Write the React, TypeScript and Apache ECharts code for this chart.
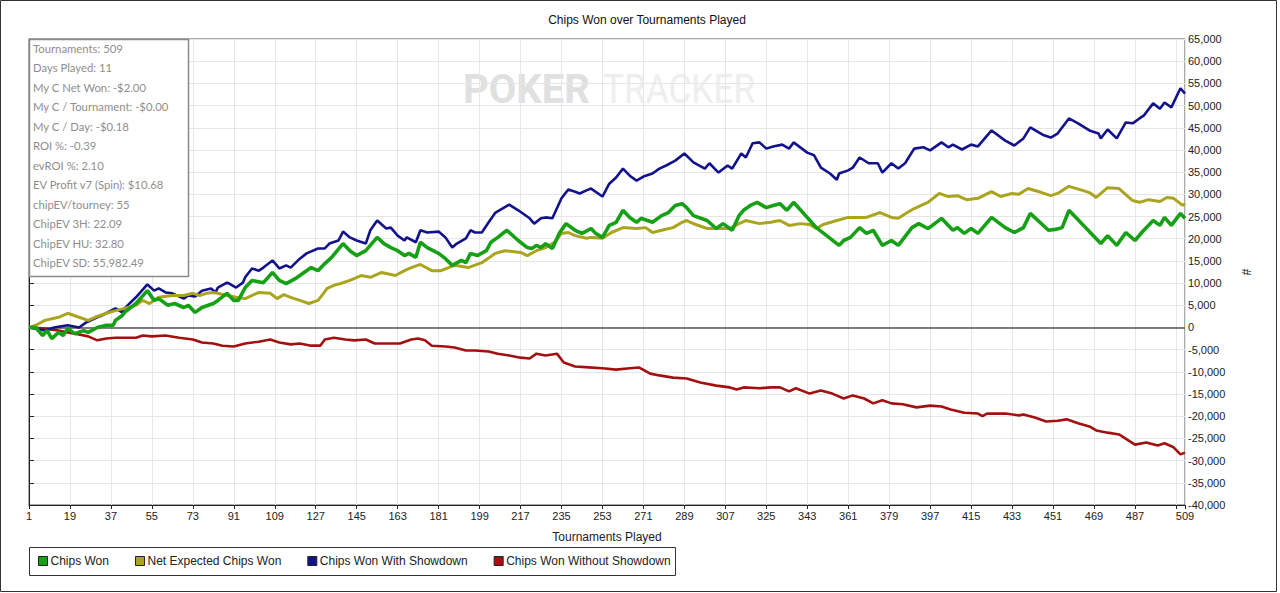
import React, { useEffect, useRef } from "react";
import * as echarts from "echarts";

const TITLE = "Chips Won over Tournaments Played";
const X_NAME = "Tournaments Played";
const Y_NAME = "#";
const SERIES_NAMES = [
  "Chips Won",
  "Net Expected Chips Won",
  "Chips Won With Showdown",
  "Chips Won Without Showdown",
];
const SERIES_COLORS = ["#16a016", "#aaa41e", "#12128c", "#a31010"];
const STATS = [
  "Tournaments: 509",
  "Days Played: 11",
  "My C Net Won: -$2.00",
  "My C / Tournament: -$0.00",
  "My C / Day: -$0.18",
  "ROI %: -0.39",
  "evROI %: 2.10",
  "EV Profit v7 (Spin): $10.68",
  "chipEV/tourney: 55",
  "ChipEV 3H: 22.09",
  "ChipEV HU: 32.80",
  "ChipEV SD: 55,982.49",
];
const X_MIN_T = 1;
const X_MAX_T = 509;
const X_STEP = 18;
const Y_MIN = -40000;
const Y_MAX = 65000;
const Y_STEP = 5000;

// [tournament, chips]
const chipsWon = [
  [1, 0], [4, 0], [7, -1800], [9, -700], [11, -2500], [14, -1100], [16, -1800], [18, -200],
  [21, -1400], [25, -700], [27, -1100], [31, 0], [35, 500], [38, 500], [39, 1600], [42, 2700],
  [43, 3400], [48, 5400], [53, 8300], [56, 6100], [58, 6500], [62, 5000], [65, 5400], [69, 4500],
  [71, 5000], [74, 3400], [77, 4500], [82, 5400], [84, 6100], [88, 7700], [91, 6100], [93, 6100],
  [96, 9000], [99, 10600], [104, 10100], [108, 12400], [111, 10600], [114, 9900], [118, 11000],
  [120, 11700], [125, 13500], [128, 12800], [131, 14400], [134, 15800], [139, 18900], [142, 17300],
  [145, 16200], [149, 17300], [154, 20300], [157, 18900], [160, 18000], [163, 17300], [166, 16200],
  [168, 16700], [171, 15800], [173, 19200], [176, 18000], [181, 16700], [184, 15500], [187, 14000],
  [191, 15100], [193, 14600], [195, 16700], [198, 16200], [202, 17300], [204, 19200], [207, 20300],
  [211, 21900], [216, 19600], [220, 18000], [222, 17800], [224, 18500], [226, 18000], [228, 18900],
  [231, 17800], [234, 21200], [237, 23400], [241, 21900], [244, 21200], [248, 22300], [250, 21200],
  [253, 20300], [256, 23000], [259, 23700], [262, 26400], [265, 24800], [268, 23700], [270, 24600],
  [275, 23700], [279, 25200], [282, 25900], [285, 27500], [288, 27900], [290, 27000], [293, 25200],
  [299, 24100], [303, 22300], [306, 23400], [310, 21900], [313, 25200], [315, 26400], [318, 27500],
  [321, 28200], [325, 27000], [328, 27500], [331, 27900], [334, 26400], [337, 28200], [347, 22500],
  [357, 18500], [359, 19600], [362, 20300], [366, 22500], [369, 21200], [372, 21900], [376, 18500],
  [380, 19600], [383, 18500], [389, 22500], [392, 23400], [396, 22300], [398, 23000], [402, 24600],
  [407, 21900], [409, 22500], [412, 21200], [415, 22300], [418, 21200], [424, 24800], [430, 22500],
  [434, 21400], [438, 22500], [441, 25700], [449, 21900], [452, 22100], [455, 22500], [458, 26400],
  [472, 18900], [475, 20700], [479, 18500], [483, 21400], [487, 19600], [490, 21400], [495, 24100],
  [498, 23000], [500, 24800], [503, 23000], [507, 25700], [509, 24600],
];

const netExpected = [
  [1, 0], [4, 500], [8, 1600], [14, 2300], [18, 3200], [23, 2300], [27, 1600], [30, 2300],
  [35, 3200], [39, 3800], [43, 4300], [48, 5000], [51, 6100], [54, 5400], [58, 6800], [64, 7200],
  [69, 7200], [73, 7700], [76, 7200], [79, 7700], [82, 7900], [84, 7700], [88, 7200], [92, 6800],
  [96, 6500], [102, 7900], [107, 7700], [110, 6500], [113, 7400], [116, 6800], [120, 6100],
  [124, 5400], [128, 6100], [130, 7400], [132, 8800], [135, 9500], [138, 9900], [142, 10600],
  [147, 11700], [151, 11300], [156, 12400], [162, 11700], [166, 12800], [169, 13500], [173, 14200],
  [178, 12800], [182, 12800], [188, 14000], [194, 13500], [200, 14600], [206, 16700], [210, 17300],
  [217, 16900], [220, 16200], [224, 17300], [228, 18000], [232, 19200], [235, 21200], [238, 21400],
  [241, 20700], [246, 20100], [248, 20300], [253, 20100], [257, 21400], [262, 22500], [268, 22300],
  [272, 22500], [275, 21400], [279, 21900], [284, 22500], [288, 23700], [290, 24100], [294, 23200],
  [299, 22300], [304, 22300], [309, 22300], [313, 23400], [316, 24100], [322, 23400], [327, 23700],
  [331, 24100], [335, 23000], [340, 23400], [344, 23200], [347, 22300], [350, 23200], [356, 24100],
  [361, 24800], [365, 24800], [369, 24800], [375, 25900], [380, 24800], [383, 24600], [387, 25900],
  [390, 26800], [396, 28200], [401, 30200], [405, 29500], [409, 29700], [413, 28800], [418, 29100],
  [424, 30600], [428, 29500], [433, 30200], [436, 30000], [440, 31300], [446, 30400], [450, 29700],
  [453, 30200], [458, 31800], [464, 30900], [467, 30400], [470, 29300], [475, 31500], [480, 31300],
  [486, 28600], [489, 28200], [493, 28800], [498, 28400], [501, 29300], [504, 29100], [508, 27500],
  [509, 27900],
];

const withShowdown = [
  [1, 0], [8, -700], [12, 0], [18, 500], [23, 0], [26, 1100], [31, 2300], [33, 2700], [39, 4300],
  [42, 3400], [43, 4300], [48, 6800], [53, 9700], [56, 8300], [58, 8800], [61, 7900], [64, 7700],
  [69, 6500], [71, 7200], [74, 7000], [77, 8300], [81, 8800], [83, 7900], [84, 9000], [88, 10100],
  [89, 9900], [92, 9000], [95, 10100], [96, 11300], [99, 13300], [102, 12800], [104, 13500],
  [108, 15100], [111, 13300], [114, 14000], [116, 13500], [120, 15500], [123, 16700], [128, 17800],
  [131, 17800], [133, 18900], [137, 19600], [139, 21600], [142, 20300], [145, 19600], [149, 18900],
  [151, 21900], [154, 24100], [158, 22300], [160, 22500], [163, 20700], [166, 19600], [167, 20300],
  [171, 19200], [173, 21900], [176, 21400], [181, 21600], [184, 20300], [187, 18000], [189, 18900],
  [193, 20100], [195, 21900], [197, 21400], [200, 21400], [203, 23700], [206, 25900], [209, 26800],
  [212, 27700], [216, 26400], [221, 24600], [223, 23400], [226, 24600], [228, 24800], [231, 24600],
  [235, 29100], [238, 31100], [241, 30600], [243, 30200], [246, 30900], [248, 31300], [253, 29500],
  [256, 32400], [259, 33800], [262, 35800], [265, 34200], [268, 33100], [271, 34000], [275, 34700],
  [278, 35800], [281, 36500], [285, 37600], [289, 39200], [293, 37200], [298, 35800], [300, 37000],
  [304, 34900], [308, 36500], [310, 35800], [314, 39200], [316, 38300], [319, 41500], [322, 41700],
  [325, 40300], [328, 40800], [332, 41200], [335, 40300], [337, 41700], [343, 39400], [346, 38800],
  [349, 36000], [353, 34700], [356, 33300], [357, 34700], [361, 35400], [363, 36000], [366, 38300],
  [370, 37000], [374, 37000], [376, 34900], [380, 37000], [383, 35800], [386, 37000], [390, 40300],
  [394, 40600], [397, 39900], [402, 41700], [405, 40600], [407, 41200], [411, 40100], [415, 41200],
  [418, 40800], [421, 42600], [424, 44400], [430, 42100], [434, 41000], [438, 42600], [441, 45100],
  [447, 43300], [450, 42800], [453, 43700], [458, 47100], [462, 46000], [467, 44400], [471, 43700],
  [472, 42600], [475, 44600], [479, 42600], [483, 46200], [486, 46000], [489, 47100], [491, 47800],
  [495, 50500], [498, 49300], [500, 50700], [503, 49600], [507, 53900], [509, 52700],
];

const withoutShowdown = [
  [1, 0], [7, -200], [14, -700], [18, -1100], [23, -1600], [27, -2000], [31, -2900], [35, -2500],
  [39, -2300], [43, -2300], [48, -2300], [51, -1800], [55, -2000], [61, -1800], [67, -2300],
  [73, -2700], [77, -3400], [82, -3600], [86, -4100], [91, -4300], [96, -3600], [102, -3200],
  [107, -2700], [111, -3400], [116, -3800], [120, -3600], [125, -4100], [129, -4100], [131, -2700],
  [135, -2300], [140, -2700], [144, -2900], [149, -2700], [153, -3600], [159, -3600], [164, -3600],
  [169, -2700], [172, -2500], [175, -2900], [178, -4100], [184, -4300], [188, -4500], [193, -5200],
  [197, -5200], [203, -5400], [207, -5900], [212, -6300], [217, -6800], [221, -7000], [224, -5900],
  [228, -6300], [233, -5900], [236, -7900], [241, -8800], [247, -9000], [253, -9200], [259, -9500],
  [265, -9200], [269, -9000], [274, -10400], [278, -10800], [284, -11300], [290, -11500],
  [296, -12400], [303, -13100], [309, -13500], [312, -14000], [315, -13500], [322, -13700],
  [327, -13500], [331, -13500], [335, -14400], [338, -13700], [344, -14900], [349, -14200],
  [354, -14900], [359, -16000], [363, -15300], [368, -16000], [372, -17100], [376, -16400],
  [380, -17100], [385, -17300], [391, -18000], [397, -17600], [402, -17800], [406, -18500],
  [412, -19200], [418, -19400], [420, -20000], [422, -19400], [430, -19400], [436, -19800],
  [438, -19600], [443, -20300], [448, -21200], [453, -21000], [457, -20700], [462, -21600],
  [467, -22300], [470, -23200], [475, -23700], [480, -24100], [487, -26400], [492, -25900],
  [497, -26600], [500, -26100], [504, -27000], [507, -28600], [509, -28200],
];

const SERIES_DATA = [chipsWon, netExpected, withShowdown, withoutShowdown];
const LINE_WIDTHS = [3.6, 3, 2.6, 2.6];
const Z_ORDER = [5, 4, 3, 2];

const AXIS_FONT = "'Liberation Sans', Arial, sans-serif";
const STATS_FONT = "Lato, 'Open Sans', sans-serif";

function fmt(v: number) {
  return v.toLocaleString("en-US");
}

export default function App() {
  const ref = useRef<HTMLDivElement>(null);

  useEffect(() => {
    if (!ref.current) return;
    const chart = echarts.init(ref.current, null, { renderer: "svg" });

    const series: any[] = SERIES_NAMES.map((name, i) => ({
      name,
      type: "line",
      data: SERIES_DATA[i].map(([t, v]) => [t - X_MIN_T, v]),
      showSymbol: false,
      symbol: "none",
      z: Z_ORDER[i],
      lineStyle: { color: SERIES_COLORS[i], width: LINE_WIDTHS[i] },
      itemStyle: { color: SERIES_COLORS[i], borderColor: "#222", borderWidth: 1 },
      emphasis: { disabled: true },
    }));
    series[3].markLine = {
      silent: true,
      symbol: ["none", "none"],
      label: { show: false },
      lineStyle: { color: "#555", width: 1.5, type: "solid" },
      data: [{ yAxis: 0 }],
      z: 1,
    };

    const statsLines = STATS.map((s, i) => ({
      type: "text",
      left: 33,
      top: 42.5 + i * 19.5,
      z: 20,
      style: {
        text: s,
        fill: "#8e8e8e",
        font: `11.3px ${STATS_FONT}`,
      },
    }));

    chart.setOption({
      animation: false,
      backgroundColor: "#fff",
      grid: {
        left: 29,
        right: 95,
        top: 39,
        bottom: 88,
        show: true,
        borderColor: "#555",
        borderWidth: 1,
        backgroundColor: "transparent",
      },
      legend: {
        data: SERIES_NAMES,
        left: 38,
        top: 555,
        padding: 0,
        icon: "rect",
        itemWidth: 9,
        itemHeight: 9,
        itemGap: 26,
        selectedMode: false,
        textStyle: { fontFamily: AXIS_FONT, fontSize: 12, color: "#222", padding: [0, 0, 0, -2] },
        itemStyle: { borderColor: "#222", borderWidth: 1 },
      },
      xAxis: {
        type: "value",
        min: 0,
        max: X_MAX_T - X_MIN_T,
        interval: X_STEP,
        name: X_NAME,
        nameLocation: "middle",
        nameGap: 26,
        nameTextStyle: { fontFamily: AXIS_FONT, fontSize: 12, color: "#222" },
        axisLine: { show: true, onZero: false, lineStyle: { color: "#222", width: 1 } },
        axisTick: { show: true, length: 4, lineStyle: { color: "#222" } },
        axisLabel: {
          fontFamily: AXIS_FONT,
          fontSize: 11,
          color: "#222",
          margin: 5,
          formatter: (v: number) => (v === 504 ? "" : String(v + X_MIN_T)),
        },
        splitLine: { show: true, lineStyle: { color: "#e6e6e6", width: 1 } },
      },
      yAxis: {
        type: "value",
        position: "right",
        min: Y_MIN,
        max: Y_MAX,
        interval: Y_STEP,
        name: Y_NAME,
        nameLocation: "middle",
        nameGap: 55,
        nameRotate: -90,
        nameTextStyle: { fontFamily: AXIS_FONT, fontSize: 12, color: "#222" },
        axisLine: { show: true, lineStyle: { color: "#222", width: 1 } },
        axisTick: { show: true, length: 5, lineStyle: { color: "#222" } },
        axisLabel: {
          fontFamily: AXIS_FONT,
          fontSize: 11,
          color: "#222",
          margin: 3,
          formatter: (v: number) => fmt(v),
        },
        splitLine: { show: true, lineStyle: { color: "#e6e6e6", width: 1 } },
      },
      series,
      graphic: [
        {
          type: "rect",
          shape: { x: 0.5, y: 0.5, width: 1276, height: 591 },
          style: { fill: "none", stroke: "#333", lineWidth: 1 },
          silent: true,
          z: 30,
        },
        {
          type: "text",
          x: 647,
          y: 14,
          style: {
            text: TITLE,
            fill: "#111",
            font: `12px ${AXIS_FONT}`,
            textAlign: "center",
          },
        },
        {
          type: "text",
          x: 463,
          y: 69,
          scaleX: 1.0,
          z: -1,
          style: {
            text: "POKER",
            fill: "#e0e0e0",
            font: `bold 40px Roboto, sans-serif`,
          },
        },
        {
          type: "text",
          x: 603,
          y: 69,
          scaleX: 0.88,
          z: -1,
          style: {
            text: "TRACKER",
            fill: "#eeeeee",
            font: `40px Roboto, sans-serif`,
          },
        },
        {
          type: "rect",
          shape: { x: 29.5, y: 39.5, width: 159, height: 237 },
          style: { fill: "#fff", stroke: "#8a8a8a", lineWidth: 1.5 },
          z: 19,
        },
        ...statsLines,
        {
          type: "rect",
          shape: { x: 29.5, y: 547.5, width: 646, height: 28 },
          style: { fill: "none", stroke: "#333", lineWidth: 1 },
          z: 19,
        },
      ],
    });

    return () => chart.dispose();
  }, []);

  return (
    <div
      ref={ref}
      style={{ position: "absolute", left: 0, top: 0, width: 1280, height: 593 }}
    />
  );
}
